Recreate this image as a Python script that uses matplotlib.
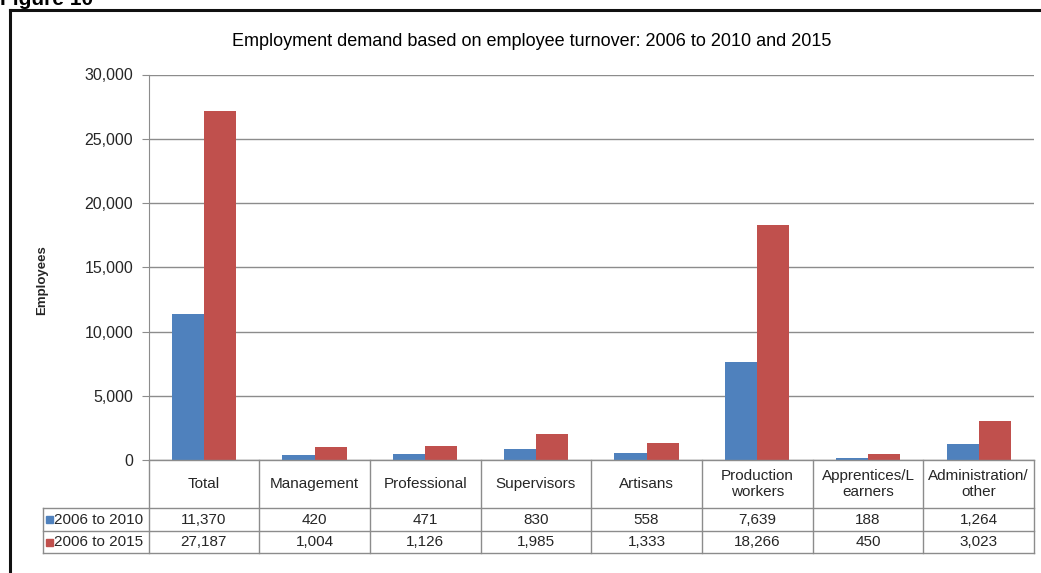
import numpy as np
import matplotlib.pyplot as plt
from matplotlib.lines import Line2D
from matplotlib.patches import Rectangle

plt.rcParams['font.family'] = ['Liberation Sans', 'DejaVu Sans']

# Employment demand data (employees)
categories = ['Total', 'Management', 'Professional', 'Supervisors', 'Artisans',
              'Production\nworkers', 'Apprentices/L\nearners', 'Administration/\nother']
series_names = ['2006 to 2010', '2006 to 2015']
demand_2010 = [11370, 420, 471, 830, 558, 7639, 188, 1264]
demand_2015 = [27187, 1004, 1126, 1985, 1333, 18266, 450, 3023]
series_colors = ['#4F81BD', '#C0504D']
y_ticks = [0, 5000, 10000, 15000, 20000, 25000, 30000]

W, H = 1041, 573
fig = plt.figure(figsize=(W / 100, H / 100), dpi=100)
fig.patch.set_facecolor('white')


def fx(px):
    return px / W


def fy(py):
    return 1 - py / H


grid_col = '#8c8c8c'
text_col = '#262626'

# outer frame (top and left edges only, the rest falls outside the page)
fig.add_artist(Line2D([fx(10), fx(W)], [fy(9.5), fy(9.5)], color='#111111', lw=2.2))
fig.add_artist(Line2D([fx(10), fx(10)], [fy(9.5), 0], color='#111111', lw=2.2))
fig.text(fx(0), fy(5), 'Figure 10', fontsize=15, fontweight='bold',
         va='baseline', ha='left')

fig.text(fx(532), fy(42), 'Employment demand based on employee turnover: 2006 to 2010 and 2015',
         fontsize=13, ha='center', va='center')

# bar chart
left, right, top, bottom = 148.5, 1034, 74.5, 460
ax = fig.add_axes([fx(left), fy(bottom), fx(right - left), (bottom - top) / H])
x = np.arange(len(categories))
bw = 0.29
ax.bar(x - bw / 2, demand_2010, bw, color=series_colors[0], zorder=3)
ax.bar(x + bw / 2, demand_2015, bw, color=series_colors[1], zorder=3)
ax.set_xlim(-0.5, len(categories) - 0.5)
ax.set_ylim(0, 30000)
ax.set_yticks(y_ticks)
ax.set_yticklabels([f'{v:,}' for v in y_ticks], fontsize=11.5, color=text_col)
ax.set_xticks([])
ax.yaxis.grid(True, color=grid_col, lw=1)
ax.set_axisbelow(True)
for s in ['top', 'right', 'bottom']:
    ax.spines[s].set_visible(False)
ax.spines['left'].set_color(grid_col)
ax.tick_params(axis='y', length=5, color=grid_col, pad=6)
fig.text(fx(42), fy(280), 'Employees', rotation=90, fontsize=9.5, fontweight='bold',
         color=text_col, ha='center', va='center')

# data table under the bars
col_w = (right - left) / len(categories)
t_left, t_bottom = 43, 553
tab = fig.add_axes([fx(t_left), fy(t_bottom), fx(right - t_left), (t_bottom - bottom) / H])
x0 = -0.5 - (left - t_left) / col_w
tab.set_xlim(x0, len(categories) - 0.5)
tab.set_ylim(t_bottom - bottom, 0)
tab.axis('off')

row_y = [0, 48, 71, 93]
lkw = dict(color=grid_col, lw=1, clip_on=False)
tab.plot([-0.5, len(categories) - 0.5], [0, 0], **lkw)
for yy in row_y[1:]:
    tab.plot([x0, len(categories) - 0.5], [yy, yy], **lkw)
tab.plot([x0, x0], [row_y[1], row_y[3]], **lkw)
for i in range(len(categories) + 1):
    tab.plot([i - 0.5, i - 0.5], [0, row_y[3]], **lkw)

for i, cat in enumerate(categories):
    tab.text(i, 24, cat, ha='center', va='center', fontsize=11, color=text_col,
             linespacing=1.1)
for r, (vals, name, col) in enumerate(zip([demand_2010, demand_2015], series_names, series_colors)):
    yc = (row_y[r + 1] + row_y[r + 2]) / 2
    for i, v in enumerate(vals):
        tab.text(i, yc, f'{v:,}', ha='center', va='center', fontsize=11, color=text_col)
    tab.add_patch(Rectangle((x0 + 3 / col_w, yc - 3.5), 7 / col_w, 7, color=col))
    tab.text(x0 + 11 / col_w, yc, name, ha='left', va='center', fontsize=11, color=text_col)

fig.savefig('out.png', dpi=100)
